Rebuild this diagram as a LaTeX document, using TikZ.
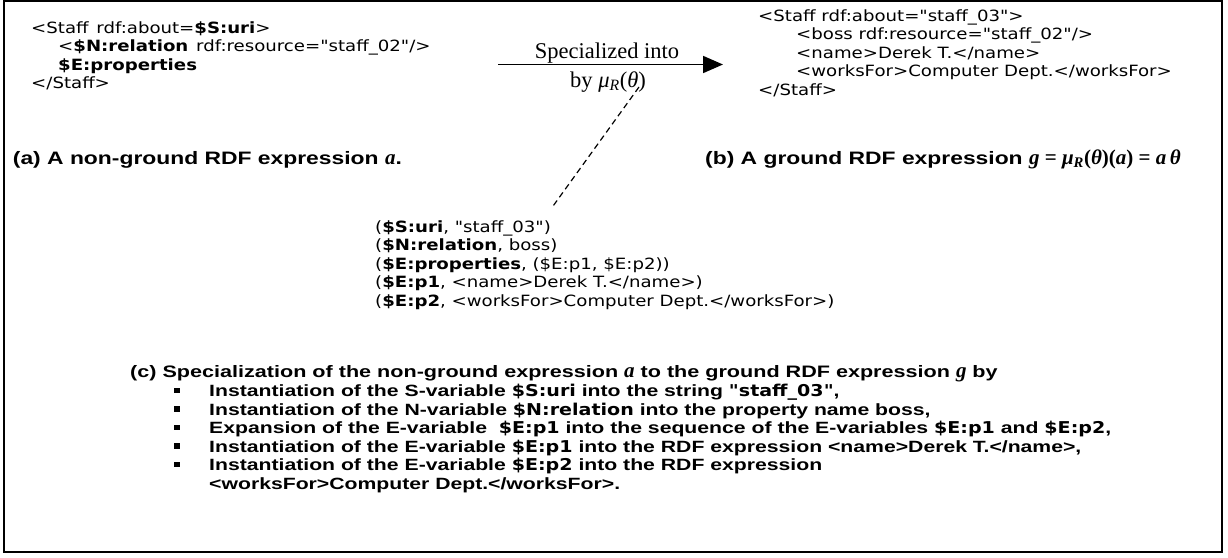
\documentclass[tikz,border=0pt]{standalone}
\usepackage{fontspec}
\setmainfont[Ligatures=TeXOff]{Liberation Sans}
\newfontfamily\codefont[Ligatures=TeXOff,FakeStretch=1.17]{DejaVu Sans}
\newfontfamily\capfont[Ligatures=TeXOff,FakeStretch=1.27]{Liberation Sans}
\newfontfamily\listfont[Ligatures=TeXOff,FakeStretch=1.30]{Liberation Sans}
\newfontfamily\timesfont[Ligatures=TeXOff]{Liberation Serif}
\usetikzlibrary{arrows.meta,calc}

\newcommand\cv[1]{{\codefont\bfseries #1}}
\newcommand\mi[1]{{\timesfont\itshape #1}}
\newcommand\capmath[1]{{\timesfont\fontsize{21}{18.5}\selectfont #1}}

\tikzset{
  code/.style={anchor=base west, inner sep=0pt, font=\codefont\fontsize{15.5}{18.5}\selectfont},
  capline/.style={anchor=base west, inner sep=0pt, font=\capfont\bfseries\fontsize{18}{18.5}\selectfont},
  listline/.style={anchor=base west, inner sep=0pt, font=\listfont\bfseries\fontsize{16.3}{18.5}\selectfont},
  arrlabel/.style={anchor=base, inner sep=0pt, font=\timesfont\fontsize{22.5}{24}\selectfont},
  bulletsq/.style={fill, minimum size=5.5pt, inner sep=0pt},
}

\begin{document}
\begin{tikzpicture}[x=1pt,y=-1pt]
  \useasboundingbox (0,0) rectangle (1228,557);
  \draw[line width=2.4pt] (4,1.2) rectangle (1221.7,552);

  % (a) the non-ground expression
  \node[code] (a1) at (31,33) {<Staff\enspace rdf:about=\textbf{\$S:uri}>};
  \node[code] (a2) at (58,51.5) {<\textbf{\$N:relation}\enspace rdf:resource="staff\_02"/>};
  \node[code] (a3) at (58,70) {\textbf{\$E:properties}};
  \node[code] (a4) at (31,88.5) {</Staff>};
  \node[capline] (capa) at (12.7,164.5) {(a) A non-ground RDF expression \capmath{\textit{a}}.};

  % (b) the ground expression
  \node[code] (b1) at (758,21) {<Staff rdf:about="staff\_03">};
  \node[code] (b2) at (796,39.5) {<boss rdf:resource="staff\_02"/>};
  \node[code] (b3) at (796,58) {<name>Derek T.</name>};
  \node[code] (b4) at (796,76.5) {<worksFor>Computer Dept.</worksFor>};
  \node[code] (b5) at (758,95) {</Staff>};
  \node[capline] (capb) at (705,164) {(b) A ground RDF expression \capmath{\textit{g} =
    \textit{μ}\textsubscript{\textit{R}}(\textit{θ})(\textit{a}) = \textit{a}\,\textit{θ}}};

  % specialization arrow
  \coordinate (arrS) at (498,64.5);
  \coordinate (arrE) at (723,64.5);
  \draw[-{Triangle[length=20pt,width=17pt]}, line width=1.8pt] (arrS) -- (arrE);
  \node[arrlabel] (spec) at (607,58) {Specialized into};
  \node[arrlabel] (by) at (608,87) {by \mi{μ}\textsubscript{\mi{R}}(\mi{θ})};

  % substitution theta
  \node[code] (t1) at (375,232) {(\textbf{\$S:uri}, "staff\_03")};
  \node[code] (t2) at (375,250.5) {(\textbf{\$N:relation}, boss)};
  \node[code] (t3) at (375,269) {(\textbf{\$E:properties}, (\$E:p1, \$E:p2))};
  \node[code] (t4) at (375,287.5) {(\textbf{\$E:p1}, <name>Derek T.</name>)};
  \node[code] (t5) at (375,306) {(\textbf{\$E:p2}, <worksFor>Computer Dept.</worksFor>)};

  \coordinate (theta) at (639,87);
  \draw[line width=1.2pt, dash pattern=on 6pt off 4pt] (theta) -- ([shift={(2,-14)}]t1.north east);

  % (c) the specialization steps
  \node[listline, font=\listfont\bfseries\fontsize{16.6}{18.5}\selectfont] (capc) at (130,377)
    {(c) Specialization of the non-ground expression \capmath{\textit{a}} to the ground RDF expression \capmath{\textit{g}} by};
  \node[listline] (c1) at (209,396.5) {Instantiation of the S-variable \cv{\$S:uri} into the string \cv{"staff\_03"},};
  \node[listline] (c2) at (209,415) {Instantiation of the N-variable \cv{\$N:relation} into the property name boss,};
  \node[listline] (c3) at (209,433.5) {Expansion of the E-variable \ \cv{\$E:p1} into the sequence of the E-variables \cv{\$E:p1} and \cv{\$E:p2},};
  \node[listline] (c4) at (209,452) {Instantiation of the E-variable \cv{\$E:p1} into the RDF expression <name>Derek T.</name>,};
  \node[listline] (c5) at (209,470.5) {Instantiation of the E-variable \cv{\$E:p2} into the RDF expression};
  \node[listline] (c6) at (209,489) {<worksFor>Computer Dept.</worksFor>.};
  \foreach \y [count=\i] in {396.5,415,433.5,452,470.5}
    \node[bulletsq] (sq\i) at (177,\y-6) {};
\end{tikzpicture}
\end{document}
